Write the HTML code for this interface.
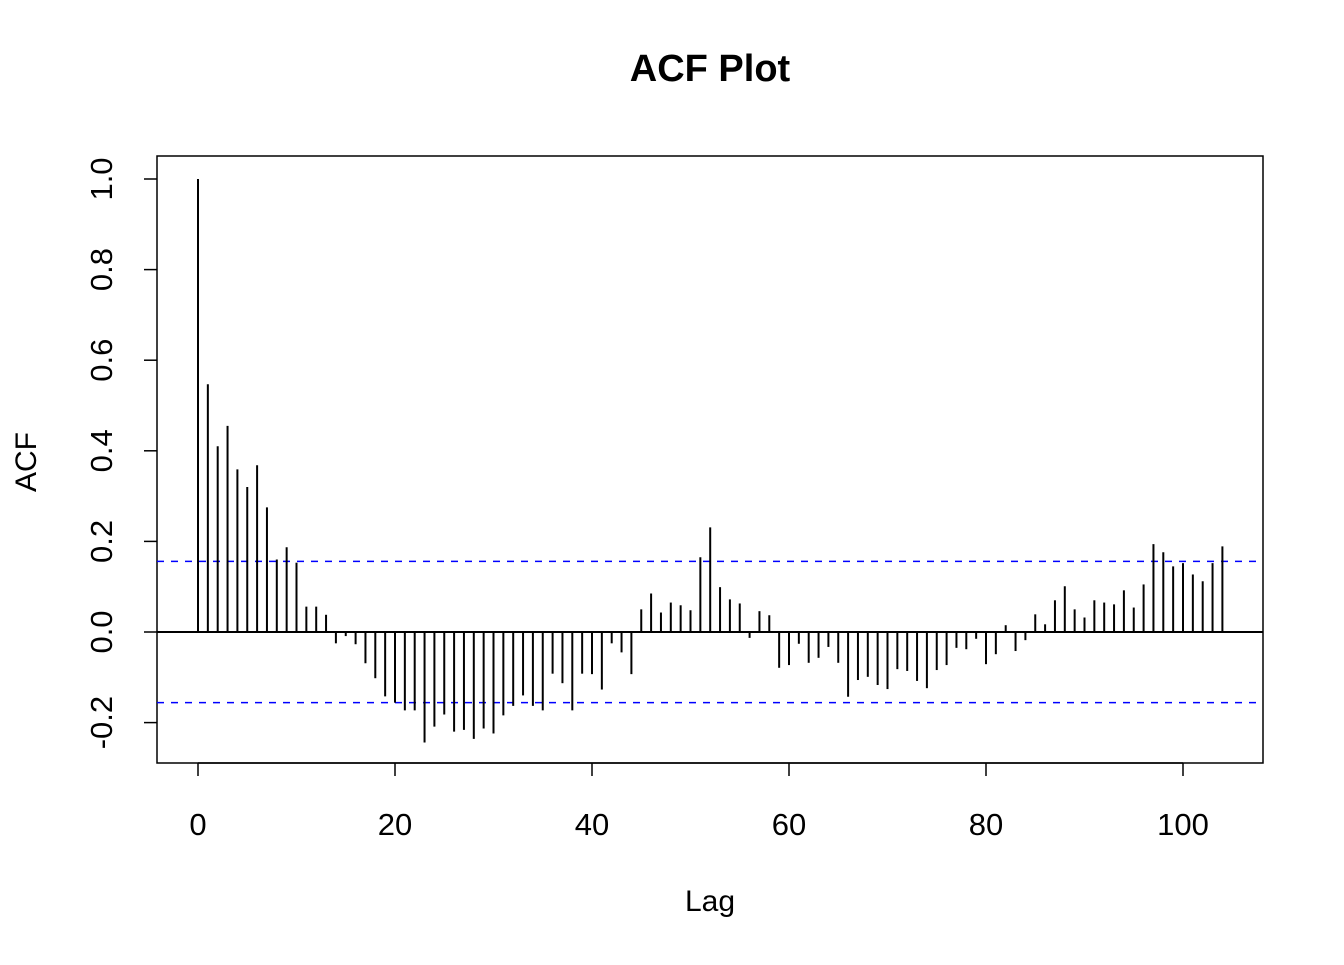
<!DOCTYPE html>
<html><head><meta charset="utf-8"><style>
body{margin:0;background:#fff}
svg text{font-family:"Liberation Sans",Arial,sans-serif}
</style></head><body>
<svg id="chart" width="1344" height="960">
<text x="710" y="81" font-size="38" font-weight="bold" text-anchor="middle">ACF Plot</text>
<text x="710" y="911" font-size="30" text-anchor="middle">Lag</text>
<text x="0" y="0" font-size="30" text-anchor="middle" transform="translate(36,462) rotate(-90)">ACF</text>
<rect x="157" y="156" width="1106" height="607" fill="none" stroke="#000" stroke-width="1.5"/>
<g id="marks"></g>
</svg>
<script>
const lags = [];
for (let i = 0; i <= 104; i++) lags.push(i);
const acfValues = [1.0,0.547,0.41,0.455,0.359,0.32,0.368,0.275,0.16,0.187,0.153,0.056,0.056,0.038,-0.025,-0.009,-0.027,-0.069,-0.102,-0.142,-0.156,-0.173,-0.173,-0.244,-0.209,-0.182,-0.22,-0.216,-0.236,-0.213,-0.224,-0.184,-0.163,-0.14,-0.163,-0.173,-0.092,-0.113,-0.173,-0.092,-0.093,-0.127,-0.025,-0.045,-0.093,0.05,0.085,0.043,0.065,0.059,0.048,0.165,0.231,0.099,0.072,0.063,-0.013,0.046,0.037,-0.079,-0.073,-0.026,-0.068,-0.057,-0.033,-0.068,-0.143,-0.106,-0.099,-0.117,-0.126,-0.082,-0.086,-0.108,-0.124,-0.084,-0.073,-0.035,-0.038,-0.015,-0.071,-0.049,0.015,-0.042,-0.018,0.039,0.017,0.07,0.101,0.05,0.032,0.07,0.065,0.061,0.092,0.054,0.105,0.194,0.176,0.145,0.152,0.127,0.112,0.152,0.189];
const xTicks = [0,20,40,60,80,100];
const yTicks = [-0.2,0.0,0.2,0.4,0.6,0.8,1.0];
const ciBound = [0.156];

const NS = "http://www.w3.org/2000/svg";
const svg = document.getElementById('chart');
const g = document.getElementById('marks');
const xS = v => 198 + v * 9.85;
const yS = v => 632 - v * 453;
function mk(tag, attrs, parent){ const e=document.createElementNS(NS,tag); for(const k in attrs) e.setAttribute(k,attrs[k]); (parent||g).appendChild(e); return e; }

xTicks.forEach(t=>{
  const l = mk('line',{x1:xS(t),x2:xS(t),y1:763,y2:776,stroke:'#000','stroke-width':1.5});
  
  
  const tx = mk('text',{x:xS(t),y:835,'font-size':31,'text-anchor':'middle'});
  tx.textContent = t;
  
  
});
mk('line',{x1:xS(0),x2:xS(100),y1:763,y2:763,stroke:'#000','stroke-width':1.5});
yTicks.forEach(t=>{
  const l = mk('line',{x1:144,x2:157,y1:yS(t),y2:yS(t),stroke:'#000','stroke-width':1.5});
  
  
  const tx = mk('text',{x:0,y:0,'font-size':31,'text-anchor':'middle',transform:`translate(112,${yS(t)}) rotate(-90)`});
  tx.textContent = t.toFixed(1);
  
  
});
const zl = mk('line',{x1:157,x2:1263,y1:yS(0),y2:yS(0),stroke:'#000','stroke-width':2});


[ciBound[0], -ciBound[0]].forEach(c=>{
  const l = mk('line',{x1:157,x2:1263,y1:yS(c),y2:yS(c),stroke:'#0000ff','stroke-width':1.5,'stroke-dasharray':'7 7'});
  
  
});
lags.forEach((lag,i)=>{
  const l = mk('line',{x1:xS(lag),x2:xS(lag),y1:yS(0),y2:yS(acfValues[i]),stroke:'#000','stroke-width':2});
  
  
});
</script>
</body></html>
